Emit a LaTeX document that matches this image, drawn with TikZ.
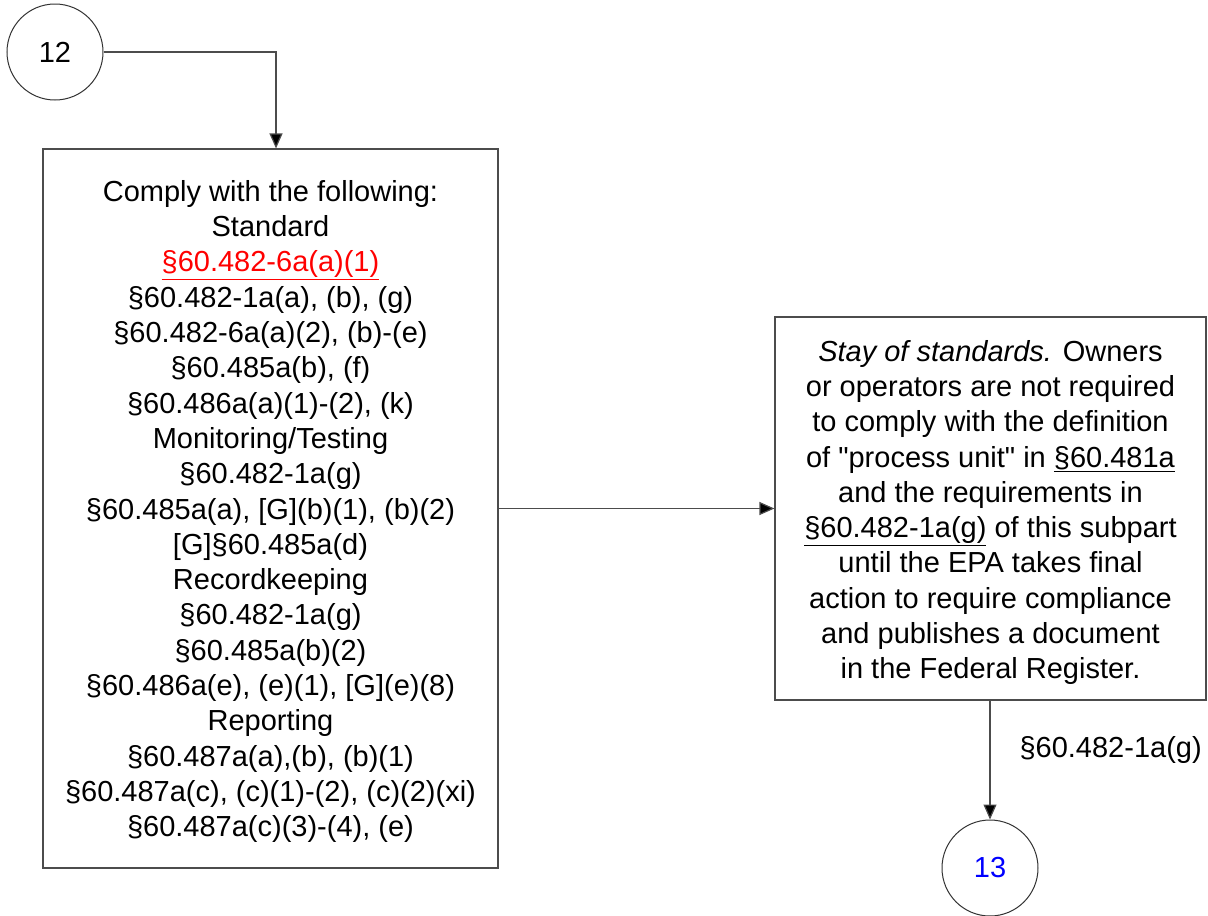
\documentclass[tikz,border=0pt]{standalone}
\usepackage{fontspec}
% plain family: no TeX ligature mapping, so " stays a straight quote
\newfontfamily\arial{Liberation Sans}
\usetikzlibrary{arrows.meta}
\begin{document}
\begin{tikzpicture}[x=1pt,y=-1pt,
  txt/.style={font=\arial\fontsize{29}{35.3}\selectfont, align=center, text=black},
  frame/.style={draw=black!70, line width=1.2pt, fill=white},
  onpage/.style={draw=black!80, line width=1pt, circle, minimum size=96pt, inner sep=0pt},
  link/.style={draw=black!70, line width=1.2pt, -{Triangle[length=15pt,width=13pt,fill=black]}}]
\useasboundingbox (0,0) rectangle (1208,916);

% off-page connectors
\node[onpage, txt] (c12) at (55,52) {12};
\node[onpage, txt, text=blue] (c13) at (990,868) {13};

% requirement list
\node[frame, txt, minimum width=455pt, minimum height=719pt, inner sep=0pt] (L) at (270.5,508.5) {%
\raisebox{-3pt}[\height][\depth]{\parbox{450pt}{\centering
Comply with the following:\\
Standard\\
\textcolor{red}{\underline{§60.482-6a(a)(1)}}\\
§60.482-1a(a), (b), (g)\\
§60.482-6a(a)(2), (b)-(e)\\
§60.485a(b), (f)\\
§60.486a(a)(1)-(2), (k)\\
Monitoring/Testing\\
§60.482-1a(g)\\
§60.485a(a), [G](b)(1), (b)(2)\\
{[G]}§60.485a(d)\\
Recordkeeping\\
§60.482-1a(g)\\
§60.485a(b)(2)\\
§60.486a(e), (e)(1), [G](e)(8)\\
Reporting\\
§60.487a(a),(b), (b)(1)\\
§60.487a(c), (c)(1)-(2), (c)(2)(xi)\\
§60.487a(c)(3)-(4), (e)}}};

% stay of standards
\node[frame, txt, minimum width=431pt, minimum height=383pt, inner sep=0pt] (R) at (990.5,508.5) {%
\raisebox{-4pt}[\height][\depth]{\parbox{425pt}{\centering
\textit{Stay of standards.} Owners\\
or operators are not required\\
to comply with the definition\\
of "process unit" in \underline{§60.481a}\\
and the requirements in\\
\underline{§60.482-1a(g)} of this subpart\\
until the EPA takes final\\
action to require compliance\\
and publishes a document\\
in the Federal Register.}}};

% connectors
\coordinate (turn) at (276,52);
\draw[link] (c12.east) -- (turn) -- (turn |- L.north);
\draw[link] (L.east) -- (R.west);
\draw[link] (R.south -| c13.north) -- (c13.north);
\node[txt, anchor=west] (lbl) at (1016,750) {§60.482-1a(g)};
\end{tikzpicture}
\end{document}
